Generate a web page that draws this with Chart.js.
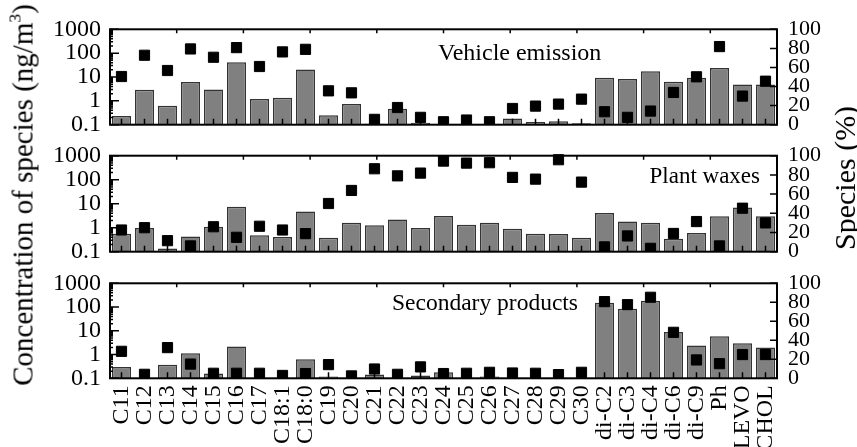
<!DOCTYPE html>
<html>
<head>
<meta charset="utf-8">
<script src="https://cdn.jsdelivr.net/npm/chart.js@4.4.1/dist/chart.umd.min.js"></script>
<style>
  html, body { margin: 0; padding: 0; background: #fff; }
  #wrap { position: relative; width: 857px; height: 447px; overflow: hidden; font-family: "Liberation Serif", serif; }
  canvas { position: absolute; left: 0; }
  .ytitle {
    position: absolute; white-space: nowrap; line-height: 1; color: #000;
    transform: translate(-50%, -50%) rotate(-90deg);
  }
  .ytitle sup { font-size: 0.6em; line-height: 0; vertical-align: 0.7em; }
</style>
</head>
<body>
<div id="wrap">
  <canvas id="panel1" width="857" height="150" style="top:0px"></canvas>
  <canvas id="panel2" width="857" height="150" style="top:128px"></canvas>
  <canvas id="panel3" width="857" height="192" style="top:255px"></canvas>
  <div class="ytitle" style="left:22.5px; top:195px; font-size:29px">Concentration of species (ng/m<sup>3</sup>)</div>
  <div class="ytitle" style="left:845px; top:178px; font-size:30px">Species (%)</div>
</div>
<script>
// categories along the x axis
const categories = ["C11", "C12", "C13", "C14", "C15", "C16", "C17", "C18:1", "C18:0",
  "C19", "C20", "C21", "C22", "C23", "C24", "C25", "C26", "C27", "C28", "C29", "C30",
  "di-C2", "di-C3", "di-C4", "di-C6", "di-C9", "Ph", "LEVO", "CHOL"];

// tick labels
const concTicks = [0.1, 1, 10, 100, 1000];
const pctTicks = [0, 20, 40, 60, 80, 100];

// Vehicle emission: concentration (ng/m3, bars) and share (%, squares)
const vehicleConc = [0.23, 2.9, 0.63, 6.1, 3.0, 42, 1.2, 1.35, 20.6, 0.25, 0.74, 0.11, 0.47, 0.12,
  0.1, 0.1, 0.1, 0.18, 0.13, 0.14, 0.115, 9.4, 8.2, 17.5, 6.3, 9.4, 24, 4.8, 4.8];
const vehiclePct = [50.5, 72.8, 56.8, 79.4, 70.7, 80.8, 61, 76.3, 79, 35.5, 33.4, 5.6, 18, 7.7,
  3.1, 4.9, 3.1, 17, 19.5, 21.6, 26.8, 13.6, 7.7, 14.3, 33.8, 50.2, 81.9, 30, 45.6];

// Plant waxes
const plantConc = [0.56, 0.97, 0.135, 0.43, 1.1, 7.4, 0.48, 0.41, 4.7, 0.38, 1.6, 1.25, 2.2, 0.97,
  3.1, 1.34, 1.6, 0.9, 0.56, 0.54, 0.38, 4.1, 1.8, 1.6, 0.35, 0.6, 3.0, 6.9, 3.0];
const plantPct = [22.6, 25, 11.5, 6, 26, 15, 26.5, 22.6, 18.8, 50.2, 63.8, 86.4, 79, 81.9,
  94.4, 92.3, 92.7, 77.4, 75.6, 95.8, 72.5, 5, 16.4, 3.5, 19, 31.4, 6, 45.3, 30];

// Secondary products
const secondaryConc = [0.3, 0.1, 0.37, 1.14, 0.16, 2.2, 0.1, 0.1, 0.64, 0.12, 0.1, 0.145, 0.1, 0.13,
  0.18, 0.1, 0.12, 0.1, 0.1, 0.1, 0.1, 152, 85, 184, 8.9, 2.4, 5.9, 3.0, 2.0];
const secondaryPct = [28.4, 4.2, 32.3, 15, 5.3, 5.3, 5.3, 3, 5, 14.4, 2.5, 9.8, 4.2, 12,
  5, 5.3, 6.3, 5.6, 5.3, 3.9, 6.3, 80.7, 77.5, 85.3, 48.4, 19.3, 15.4, 25, 25];

const FONT = "Liberation Serif";

// frame, inward ticks and the panel caption
const framePlugin = {
  id: "frame",
  afterDatasetsDraw(chart, args, opts) {
    const { ctx, chartArea: a, scales } = chart;
    ctx.save();
    ctx.strokeStyle = "#000";
    ctx.lineWidth = 1.5;
    ctx.beginPath();
    // bottom ticks at each category
    categories.forEach((c, i) => {
      const x = scales.x.getPixelForValue(i);
      ctx.moveTo(x, a.bottom);
      ctx.lineTo(x, a.bottom - 6);
    });
    // top ticks, ten equal steps
    for (let i = 1; i < 10; i++) {
      const x = a.left + (a.width * i) / 10;
      ctx.moveTo(x, a.top);
      ctx.lineTo(x, a.top + 4);
    }
    // left log ticks
    concTicks.forEach((v, k) => {
      const y = scales.y.getPixelForValue(v);
      ctx.moveTo(a.left, y);
      ctx.lineTo(a.left + 9, y);
      if (k < concTicks.length - 1) {
        for (let m = 2; m < 10; m++) {
          const ym = scales.y.getPixelForValue(v * m);
          ctx.moveTo(a.left, ym);
          ctx.lineTo(a.left + 3, ym);
        }
      }
    });
    // right ticks
    pctTicks.forEach((v) => {
      const y = scales.y2.getPixelForValue(v);
      ctx.moveTo(a.right, y);
      ctx.lineTo(a.right - 7, y);
    });
    ctx.stroke();
    ctx.lineWidth = 2;
    ctx.strokeRect(a.left, a.top, a.width, a.height);

    ctx.fillStyle = "#000";
    ctx.font = opts.size + "px '" + FONT + "'";
    ctx.textAlign = opts.align;
    ctx.textBaseline = "alphabetic";
    ctx.fillText(opts.text, opts.x, a.top + opts.dy);
    ctx.restore();
  },
};

function makePanel(id, conc, pct, caption, showX) {
  const ctx = document.getElementById(id).getContext("2d");
  return new Chart(ctx, {
    type: "bar",
    data: {
      labels: categories,
      datasets: [
        {
          type: "line",
          data: pct,
          yAxisID: "y2",
          showLine: false,
          pointStyle: "rect",
          pointRadius: 7.2,
          pointBackgroundColor: "#000",
          pointBorderColor: "#000",
          pointBorderWidth: 1,
          clip: { left: 8, right: 8, top: 8, bottom: 0 },
          order: 0,
        },
        {
          data: conc,
          yAxisID: "y",
          backgroundColor: "#808080",
          borderColor: "#333",
          borderWidth: 1.5,
          barPercentage: 0.83,
          categoryPercentage: 1,
          order: 1,
        },
      ],
    },
    options: {
      responsive: false,
      animation: false,
      events: [],
      layout: { autoPadding: false, padding: caption.padding },
      plugins: {
        legend: { display: false },
        tooltip: { enabled: false },
        frame: caption,
      },
      scales: {
        x: {
          grid: { display: false, drawTicks: false },
          border: { display: false },
          ticks: {
            display: showX,
            autoSkip: false,
            minRotation: 90,
            maxRotation: 90,
            padding: 7,
            color: "#000",
            font: { family: FONT, size: 24, lineHeight: 1 },
          },
          afterFit: (s) => { s.height = showX ? 68.7 : 0; },
        },
        y: {
          type: "logarithmic",
          position: "left",
          min: 0.1,
          max: 1000,
          afterBuildTicks: (s) => { s.ticks = concTicks.map((v) => ({ value: v })); },
          ticks: {
            autoSkip: false,
            padding: 9,
            color: "#000",
            font: { family: FONT, size: 24, lineHeight: 1 },
            callback: (v) => String(v),
          },
          grid: { display: false, drawTicks: false },
          border: { display: false },
          afterFit: (s) => { s.width = 110; },
        },
        y2: {
          type: "linear",
          position: "right",
          min: 0,
          max: 100,
          afterBuildTicks: (s) => { s.ticks = pctTicks.map((v) => ({ value: v })); },
          ticks: {
            autoSkip: false,
            padding: 11,
            color: "#000",
            font: { family: FONT, size: 22, lineHeight: 1 },
          },
          grid: { display: false, drawTicks: false },
          border: { display: false },
          afterFit: (s) => { s.width = 80; },
        },
      },
    },
    plugins: [framePlugin],
  });
}

makePanel("panel1", vehicleConc, vehiclePct,
  { text: "Vehicle emission", x: 438, dy: 30.7, align: "left", size: 24,
    padding: { top: 29.3, bottom: 25.3, left: 0, right: 0 } }, false);
makePanel("panel2", plantConc, plantPct,
  { text: "Plant waxes", x: 760, dy: 27.3, align: "right", size: 23,
    padding: { top: 27.7, bottom: 26.3, left: 0, right: 0 } }, false);
makePanel("panel3", secondaryConc, secondaryPct,
  { text: "Secondary products", x: 392, dy: 26.7, align: "left", size: 23.5,
    padding: { top: 28.3, bottom: 0, left: 0, right: 0 } }, true);
</script>
</body>
</html>
